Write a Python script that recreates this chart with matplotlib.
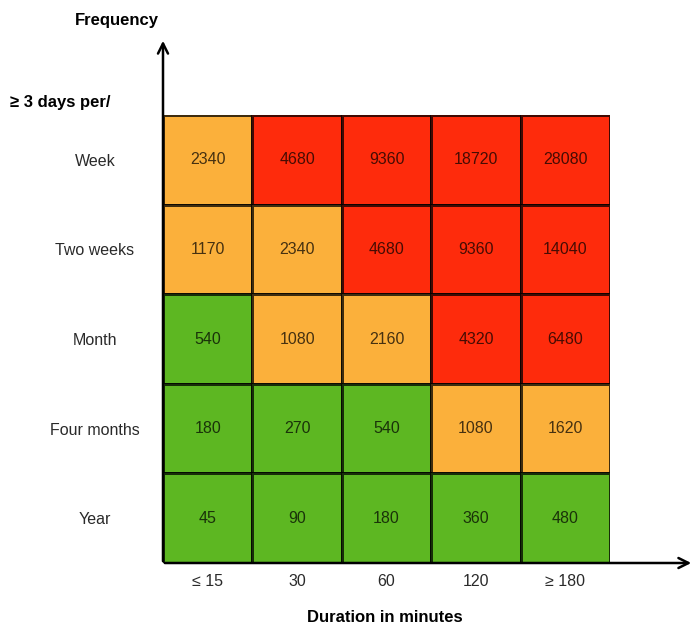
import matplotlib.pyplot as plt
import numpy as np
from matplotlib.colors import ListedColormap

plt.rcParams['font.family'] = ['Liberation Sans', 'DejaVu Sans']

# rows: frequency, columns: duration
freq_labels = ['Week', 'Two weeks', 'Month', 'Four months', 'Year']
duration_labels = ['≤ 15', '30', '60', '120', '≥ 180']
values = np.array([
	[2340, 4680, 9360, 18720, 28080],
	[1170, 2340, 4680, 9360, 14040],
	[540, 1080, 2160, 4320, 6480],
	[180, 270, 540, 1080, 1620],
	[45, 90, 180, 360, 480],
])
# risk level of each cell: 0 = green, 1 = orange, 2 = red
risk = np.array([
	[1, 2, 2, 2, 2],
	[1, 1, 2, 2, 2],
	[0, 1, 1, 2, 2],
	[0, 0, 0, 1, 1],
	[0, 0, 0, 0, 0],
])
cmap = ListedColormap(['#5db722', '#fbb03b', '#fe2b0c'])

W, H = 696, 628
fig = plt.figure(figsize=(W / 100, H / 100), dpi=100)
ax = fig.add_axes([163 / W, (H - 563) / H, 447 / W, 448 / H])

n_rows, n_cols = values.shape
ax.pcolormesh(np.arange(n_cols + 1), np.arange(n_rows + 1), risk, cmap=cmap,
	vmin=-0.5, vmax=2.5, edgecolors=(0, 0, 0, 0.75), linewidth=1.0)
ax.set_xlim(0, n_cols)
ax.set_ylim(n_rows, 0)

for r in range(n_rows):
	for c in range(n_cols):
		ax.text(c + 0.5, r + 0.5, str(values[r, c]), ha='center', va='center',
			fontsize=11.5, color='black', alpha=0.72)

ax.set_xticks(np.arange(n_cols) + 0.5)
ax.set_xticklabels(duration_labels, fontsize=11.5, color='#2a2a2a')
ax.set_yticks(np.arange(n_rows) + 0.5)
ax.set_yticklabels(freq_labels, fontsize=11.5, color='#2a2a2a', ha='center')
ax.tick_params(axis='x', length=0, pad=8)
ax.tick_params(axis='y', length=0, pad=49)
for s in ax.spines.values():
	s.set_visible(False)

# axis arrows
arrow = dict(arrowstyle='->', color='black', lw=1.8, mutation_scale=18)
ax.annotate('', xy=(163 / W, 1 - 38 / H), xytext=(163 / W, 1 - 564 / H),
	xycoords='figure fraction', textcoords='figure fraction', arrowprops=arrow)
ax.annotate('', xy=(694 / W, 1 - 563 / H), xytext=(162 / W, 1 - 563 / H),
	xycoords='figure fraction', textcoords='figure fraction', arrowprops=arrow)

fig.text(117 / W, 1 - 20 / H, 'Frequency', ha='center', va='center',
	fontsize=12, fontweight='bold')
fig.text(10 / W, 1 - 102 / H, '≥ 3 days per/', ha='left', va='center',
	fontsize=12, fontweight='bold')
fig.text(385 / W, 1 - 617 / H, 'Duration in minutes', ha='center', va='center',
	fontsize=12, fontweight='bold')

fig.savefig('out.png', dpi=100)
